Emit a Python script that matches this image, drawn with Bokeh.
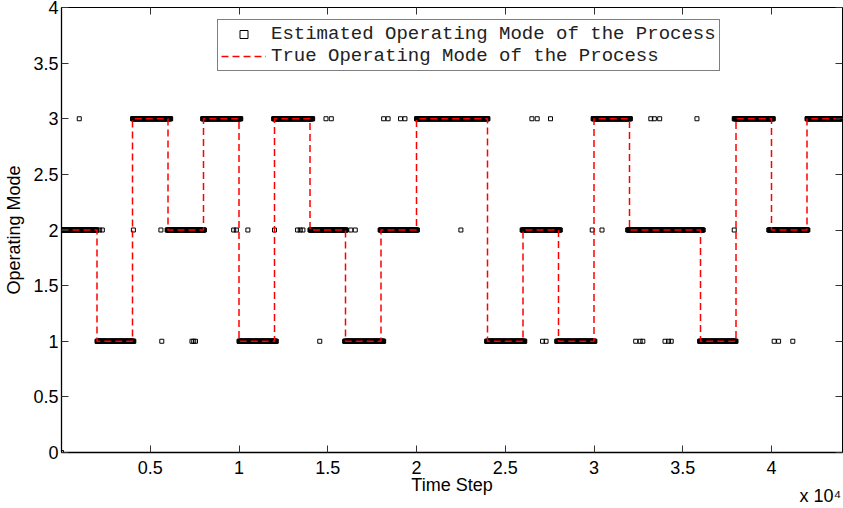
import numpy as np
from bokeh.plotting import figure
from bokeh.models import (LinearAxis, Range1d, Legend, LegendItem,
                          FixedTicker, ColumnDataSource)
from bokeh.embed import file_html
from bokeh.resources import INLINE

# ---- data ----
# true operating mode: segment start times and modes
true_start = [0, 2000, 4000, 6000, 8000, 10000, 12000, 14000, 16000, 18000,
              20000, 24000, 26000, 28000, 30000, 32000, 36000, 38000, 40000, 42000]
true_mode = [2, 1, 3, 2, 3, 1, 3, 2, 1, 2, 3, 1, 2, 1, 3, 2, 1, 3, 2, 3]
end_time = 44000

# estimated mode: dense runs (start, end, mode)
est_run_start = [0, 2000, 4000, 5950, 7950, 10000, 11950, 14000, 15950, 17950,
                 20000, 23950, 25950, 27900, 29950, 31900, 35950, 37900, 39850, 42000]
est_run_end = [2000, 4080, 6150, 8070, 10100, 12100, 14150, 16050, 18150, 20070,
               24030, 26100, 28100, 30050, 32050, 36150, 38000, 40100, 42050, 44000]
est_run_mode = [2, 1, 3, 2, 3, 1, 3, 2, 1, 2, 3, 1, 2, 1, 3, 2, 1, 3, 2, 3]
run_sample_step = 25

# estimated mode: isolated mis-classified samples
est_out_t = [0, 1000, 2150, 2300, 4050, 5600, 5650, 7350, 7450, 7550,
             9700, 9850, 10500, 12000, 13300, 13450, 13600, 14550, 14900, 15200,
             16300, 16550, 18150, 18400, 19100, 19350, 22500, 26500, 26800, 27550,
             27100, 27300, 29900, 30450, 32350, 32600, 32750, 33200, 33400, 33700,
             34000, 34200, 34350, 35800, 37900, 40150, 40400, 41200]
est_out_mode = [0, 3, 2, 2, 2, 2, 1, 1, 1, 1,
                2, 2, 2, 2, 2, 2, 2, 1, 3, 3,
                2, 2, 3, 3, 3, 3, 2, 3, 3, 3,
                1, 1, 2, 2, 1, 1, 1, 3, 3, 3,
                1, 1, 1, 3, 2, 1, 1, 1]

x_ticks = [5000, 10000, 15000, 20000, 25000, 30000, 35000, 40000]
x_tick_labels = ["0.5", "1", "1.5", "2", "2.5", "3", "3.5", "4"]
y_ticks = [0, 0.5, 1, 1.5, 2, 2.5, 3, 3.5, 4]
y_tick_labels = ["0", "0.5", "1", "1.5", "2", "2.5", "3", "3.5", "4"]
x_multiplier_text = "x 10\u2074"

# ---- build sources ----
est_t, est_m = [], []
for s, e, m in zip(est_run_start, est_run_end, est_run_mode):
    ts = np.arange(s, e + 1, run_sample_step)
    est_t.extend(ts.tolist())
    est_m.extend([m] * len(ts))
est_t.extend(est_out_t)
est_m.extend(est_out_mode)
est_src = ColumnDataSource(dict(t=est_t, m=est_m))

true_src = ColumnDataSource(dict(t=true_start + [end_time],
                                 m=true_mode + [true_mode[-1]]))

FONT = "Liberation Sans"

p = figure(width=843, height=508, output_backend="svg", toolbar_location=None,
           x_range=Range1d(0, end_time), y_range=Range1d(0, 4),
           min_border_left=61, min_border_right=1, min_border_top=7,
           min_border_bottom=0)
p.xgrid.visible = False
p.ygrid.visible = False
p.outline_line_color = "black"
p.outline_line_width = 1
p.background_fill_color = "white"
p.border_fill_color = "white"

def fix_key(v):
    return int(v) if float(v).is_integer() else v

def style_axis(ax, ticks, labels, show_labels):
    ax.ticker = FixedTicker(ticks=ticks)
    ax.major_label_overrides = {fix_key(t): l for t, l in zip(ticks, labels)}
    ax.major_tick_in = 7
    ax.major_tick_out = 0
    ax.minor_tick_in = 0
    ax.minor_tick_out = 0
    ax.major_tick_line_color = "#333333"
    ax.axis_line_color = "black"
    ax.axis_line_width = 1.3
    ax.major_label_text_font = FONT
    ax.major_label_text_color = "black"
    ax.axis_label_text_font = FONT
    ax.axis_label_text_font_style = "normal"
    ax.axis_label_text_color = "black"
    if show_labels:
        ax.major_label_text_font_size = "18px"
        ax.axis_label_text_font_size = "18px"
        ax.major_label_standoff = 5
        ax.axis_label_standoff = 0
    else:
        ax.major_label_text_font_size = "0px"
        ax.major_label_standoff = 0
        ax.axis_line_color = None

xa = p.xaxis[0]
style_axis(xa, x_ticks, x_tick_labels, True)
xa.axis_label = "Time Step"
xa.major_label_standoff = 8
xa.axis_label_standoff = -2
ya = p.yaxis[0]
style_axis(ya, y_ticks, y_tick_labels, True)
ya.axis_label = "Operating Mode"
ya.major_label_standoff = 3
ya.axis_label_standoff = 6

top = LinearAxis()
style_axis(top, x_ticks, x_tick_labels, False)
p.add_layout(top, "above")
right = LinearAxis()
style_axis(right, y_ticks, y_tick_labels, False)
p.add_layout(right, "right")

# exponent note "x 10^4" drawn as the only tick label of an extra, line-less axis
mult_pos = 42750
mult_axis = LinearAxis(ticker=FixedTicker(ticks=[mult_pos]),
                       major_label_overrides={mult_pos: x_multiplier_text})
mult_axis.axis_line_color = None
mult_axis.major_tick_in = 0
mult_axis.major_tick_out = 0
mult_axis.minor_tick_in = 0
mult_axis.minor_tick_out = 0
mult_axis.major_label_text_font = FONT
mult_axis.major_label_text_font_size = "18px"
mult_axis.major_label_text_color = "black"
mult_axis.major_label_standoff = -12
p.add_layout(mult_axis, "below")

r_est = p.scatter("t", "m", source=est_src, marker="square", size=4,
                  line_color="black", fill_color=None, line_width=1)
r_true = p.step("t", "m", source=true_src, mode="after", line_color="#ff0000",
                line_width=1.5, line_dash="7 4")

legend = Legend(items=[
    LegendItem(label="Estimated Operating Mode of the Process", renderers=[r_est]),
    LegendItem(label="True Operating Mode of the Process", renderers=[r_true]),
], location=(156, 381))
legend.label_text_font = "Liberation Mono"
legend.label_text_font_size = "19px"
legend.label_text_color = "#222222"
legend.label_height = 20
legend.glyph_height = 20
legend.glyph_width = 45
legend.label_standoff = 5
legend.padding = 3
legend.spacing = 0
legend.margin = 0
legend.border_line_color = "black"
legend.border_line_width = 1.3
legend.background_fill_color = "white"
legend.background_fill_alpha = 1
p.add_layout(legend, "center")

open("out.html", "w").write(file_html(p, INLINE))
